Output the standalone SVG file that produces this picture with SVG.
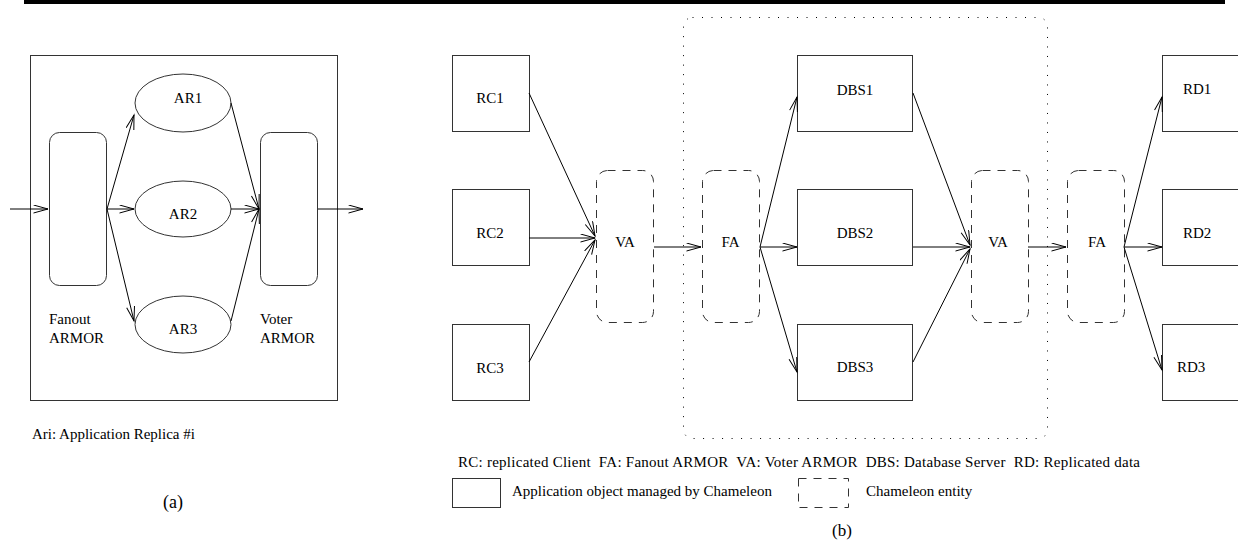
<svg xmlns="http://www.w3.org/2000/svg" width="1238" height="550" viewBox="0 0 1238 550">
<style>
  text { font-family: "Liberation Serif", "Times New Roman", serif; font-size: 15px; fill: #000; }
  .box { fill: none; stroke: #333; stroke-width: 1; }
  .dash { fill: none; stroke: #333; stroke-width: 1; stroke-dasharray: 8 7; }
  .dot { fill: none; stroke: #000; stroke-width: 1; stroke-dasharray: 1 8.5; }
  .arr { fill: none; stroke: #000; stroke-width: 1; marker-end: url(#ah); }
  .mid { text-anchor: middle; }
</style>
<defs>
  <marker id="ah" markerUnits="userSpaceOnUse" markerWidth="17" markerHeight="10" refX="15" refY="4.5" orient="auto">
    <path d="M0.5,0.5 L15,4.5 L0.5,8.5" fill="none" stroke="#000" stroke-width="1"/>
  </marker>
</defs>
<rect x="24" y="0" width="1201" height="4" fill="#000"/>

<!-- Panel (a) -->
<g id="a-frame"><rect class="box" x="30.5" y="55.5" width="307" height="345"/></g>
<g id="fanout"><rect class="box" x="49.5" y="132.5" width="57" height="153" rx="10"/>
  <text x="49" y="324">Fanout</text><text x="49" y="343">ARMOR</text></g>
<g id="voter"><rect class="box" x="260.5" y="132.5" width="57" height="153" rx="10"/>
  <text x="260" y="324">Voter</text><text x="260" y="343">ARMOR</text></g>
<g id="ar1"><ellipse class="box" cx="183" cy="103" rx="48" ry="29"/><text class="mid" x="188" y="103">AR1</text></g>
<g id="ar2"><ellipse class="box" cx="183" cy="209" rx="48" ry="28"/><text class="mid" x="183" y="219">AR2</text></g>
<g id="ar3"><ellipse class="box" cx="183" cy="324.5" rx="48" ry="28.5"/><text class="mid" x="183" y="334">AR3</text></g>
<g id="a-notes">
  <text x="32" y="439">Ari: Application Replica #i</text>
  <text class="mid" x="173" y="508" style="font-size:18px">(a)</text>
</g>

<!-- Panel (b) -->
<g id="chameleon"><rect class="dot" x="683.5" y="17.5" width="364" height="421" rx="9"/></g>
<g id="rc1"><rect class="box" x="452.5" y="55.5" width="77" height="76"/><text class="mid" x="490" y="103">RC1</text></g>
<g id="rc2"><rect class="box" x="452.5" y="189.5" width="77" height="76"/><text class="mid" x="490" y="238">RC2</text></g>
<g id="rc3"><rect class="box" x="452.5" y="324.5" width="77" height="76"/><text class="mid" x="490" y="373">RC3</text></g>
<g id="va1"><rect class="dash" x="596.5" y="170.5" width="57" height="152" rx="11"/><text class="mid" x="625" y="247">VA</text></g>
<g id="fa1"><rect class="dash" x="702.5" y="170.5" width="57" height="152" rx="11"/><text class="mid" x="730.5" y="247">FA</text></g>
<g id="dbs1"><rect class="box" x="797.5" y="55.5" width="115" height="76"/><text class="mid" x="855" y="95">DBS1</text></g>
<g id="dbs2"><rect class="box" x="797.5" y="189.5" width="115" height="76"/><text class="mid" x="855" y="238">DBS2</text></g>
<g id="dbs3"><rect class="box" x="797.5" y="324.5" width="115" height="76"/><text class="mid" x="855" y="372">DBS3</text></g>
<g id="va2"><rect class="dash" x="971.5" y="170.5" width="57" height="152" rx="11"/><text class="mid" x="998" y="247">VA</text></g>
<g id="fa2"><rect class="dash" x="1067.5" y="170.5" width="57" height="152" rx="11"/><text class="mid" x="1097" y="247">FA</text></g>
<g id="rd1"><rect class="box" x="1162.5" y="55.5" width="90" height="76"/><text x="1183" y="94">RD1</text></g>
<g id="rd2"><rect class="box" x="1162.5" y="189.5" width="90" height="76"/><text x="1183" y="238">RD2</text></g>
<g id="rd3"><rect class="box" x="1162.5" y="324.5" width="90" height="76"/><text x="1177" y="372">RD3</text></g>

<g id="legend">
  <text x="458" y="467" xml:space="preserve" textLength="682" lengthAdjust="spacing">RC: replicated Client  FA: Fanout ARMOR  VA: Voter ARMOR  DBS: Database Server  RD: Replicated data</text>
  <rect class="box" x="452.5" y="478.5" width="48" height="29"/>
  <text x="512" y="496">Application object managed by Chameleon</text>
  <rect class="dash" x="798.5" y="478.5" width="50" height="29"/>
  <text x="866" y="496">Chameleon entity</text>
  <text class="mid" x="842" y="536" style="font-size:17px">(b)</text>
</g>

<g id="connectors">
  <line class="arr" x1="10" y1="209" x2="48" y2="209"/>
  <line class="arr" x1="318" y1="209" x2="363" y2="209"/>
  <line class="arr" x1="107" y1="209" x2="134" y2="115"/>
  <line class="arr" x1="107" y1="209" x2="134" y2="209"/>
  <line class="arr" x1="107" y1="209" x2="134" y2="321"/>
  <line class="arr" x1="231" y1="103" x2="259" y2="209"/>
  <line class="arr" x1="231" y1="209" x2="259" y2="209"/>
  <line class="arr" x1="231" y1="321" x2="259" y2="209"/>

  <line class="arr" x1="529" y1="93" x2="595" y2="236"/>
  <line class="arr" x1="529" y1="238" x2="595" y2="238"/>
  <line class="arr" x1="529" y1="362" x2="595" y2="240"/>
  <line class="arr" x1="654" y1="247" x2="701" y2="247"/>
  <line class="arr" x1="760" y1="247" x2="797" y2="97"/>
  <line class="arr" x1="760" y1="247" x2="797" y2="247"/>
  <line class="arr" x1="760" y1="247" x2="797" y2="372"/>
  <line class="arr" x1="913" y1="93" x2="970" y2="245"/>
  <line class="arr" x1="913" y1="247" x2="970" y2="247"/>
  <line class="arr" x1="913" y1="362" x2="970" y2="249"/>
  <line class="arr" x1="1028" y1="247" x2="1066" y2="247"/>
  <line class="arr" x1="1124" y1="247" x2="1162" y2="97"/>
  <line class="arr" x1="1124" y1="247" x2="1162" y2="247"/>
  <line class="arr" x1="1124" y1="247" x2="1162" y2="370"/>
</g>
</svg>
